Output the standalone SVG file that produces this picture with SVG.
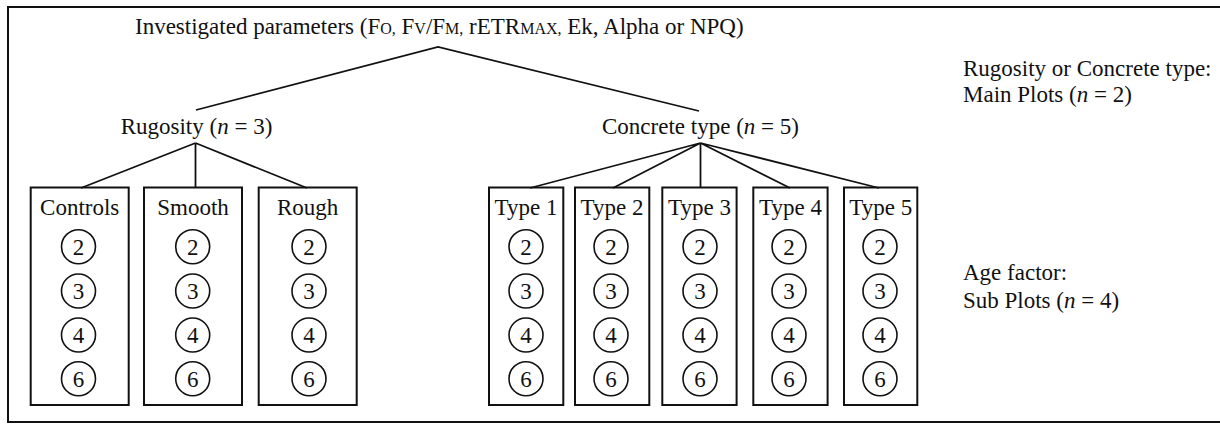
<svg xmlns="http://www.w3.org/2000/svg" width="1220" height="426" viewBox="0 0 1220 426">
<style>
text{font-family:"Liberation Serif","Times New Roman",serif;font-size:23px;fill:#111}
.c{text-anchor:middle}
.sub{font-size:16px}
.box{fill:none;stroke:#111;stroke-width:2}
.ring{fill:none;stroke:#111;stroke-width:1.6}
.ln{fill:none;stroke:#111;stroke-width:1.8}
</style>
<rect x="0" y="0" width="1220" height="426" fill="#fff"/>
<rect id="frame" x="8" y="7" width="1240" height="415" fill="none" stroke="#111" stroke-width="2"/>
<g id="connectors">
<polyline class="ln" points="196,110 438,47 699,111"/>
<path class="ln" d="M195.5,143 L81,188 M195.5,143 L195.5,188 M195.5,143 L307,188"/>
<path class="ln" d="M700.5,143 L530,188 M700.5,143 L613,188 M700.5,143 L700.5,188 M700.5,143 L790,188 M700.5,143 L879,188"/>
</g>
<g id="title"><text x="135" y="34">Investigated parameters (F<tspan class="sub">O,</tspan> F<tspan class="sub">V</tspan>/F<tspan class="sub">M,</tspan> rETR<tspan class="sub">MAX,</tspan> Ek, Alpha or NPQ)</text></g>
<g id="rugosity"><text class="c" x="196.5" y="134">Rugosity (<tspan font-style="italic">n</tspan> = 3)</text></g>
<g id="concrete"><text class="c" x="700.5" y="134">Concrete type (<tspan font-style="italic">n</tspan> = 5)</text></g>
<g id="legend-main"><text x="963" y="76">Rugosity or Concrete type:</text><text x="963" y="102">Main Plots (<tspan font-style="italic">n</tspan> = 2)</text></g>
<g id="legend-sub"><text x="963" y="280">Age factor:</text><text x="963" y="308">Sub Plots (<tspan font-style="italic">n</tspan> = 4)</text></g>
<defs>
<g id="ages">
<circle class="ring" cx="0" cy="246.7" r="17"/><text class="c" x="0" y="254.5">2</text>
<circle class="ring" cx="0" cy="291" r="17"/><text class="c" x="0" y="298.8">3</text>
<circle class="ring" cx="0" cy="335" r="17"/><text class="c" x="0" y="342.8">4</text>
<circle class="ring" cx="0" cy="378.7" r="17"/><text class="c" x="0" y="386.5">6</text>
</g>
</defs>
<g id="controls"><rect class="box" x="30.7" y="187.5" width="98" height="217.5"/><text class="c" x="79.7" y="215">Controls</text><use href="#ages" x="78.5"/></g>
<g id="smooth"><rect class="box" x="144" y="187.5" width="98" height="217.5"/><text class="c" x="193" y="215">Smooth</text><use href="#ages" x="192.7"/></g>
<g id="rough"><rect class="box" x="258.7" y="187.5" width="98" height="217.5"/><text class="c" x="307.7" y="215">Rough</text><use href="#ages" x="309"/></g>
<g id="type1"><rect class="box" x="489" y="187.5" width="74.3" height="217.5"/><text class="c" x="526" y="215">Type 1</text><use href="#ages" x="526"/></g>
<g id="type2"><rect class="box" x="575" y="187.5" width="74.3" height="217.5"/><text class="c" x="612" y="215">Type 2</text><use href="#ages" x="611"/></g>
<g id="type3"><rect class="box" x="662.3" y="187.5" width="74.3" height="217.5"/><text class="c" x="699.5" y="215">Type 3</text><use href="#ages" x="700"/></g>
<g id="type4"><rect class="box" x="753.3" y="187.5" width="74.3" height="217.5"/><text class="c" x="790.5" y="215">Type 4</text><use href="#ages" x="789"/></g>
<g id="type5"><rect class="box" x="844" y="187.5" width="73.3" height="217.5"/><text class="c" x="880.7" y="215">Type 5</text><use href="#ages" x="880"/></g>
</svg>
